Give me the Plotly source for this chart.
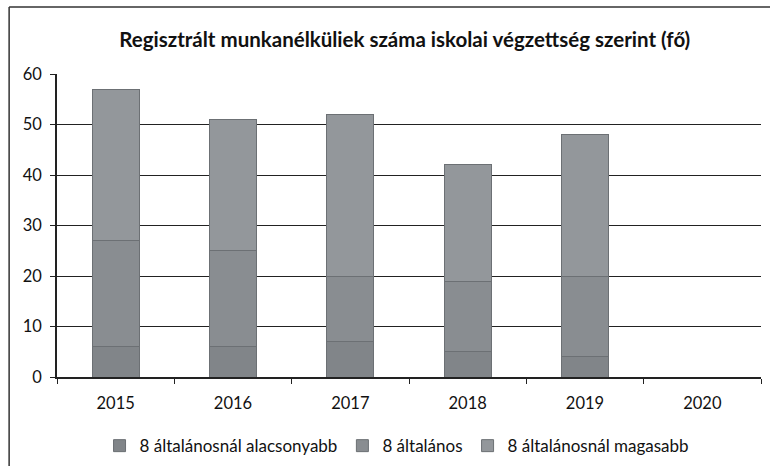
import plotly.graph_objects as go

# === DATA ===
years = ["2015", "2016", "2017", "2018", "2019", "2020"]
lower = [6, 6, 7, 5, 4, 0]        # 8 általánosnál alacsonyabb
primary = [21, 19, 13, 14, 16, 0]  # 8 általános
higher = [30, 26, 32, 23, 28, 0]   # 8 általánosnál magasabb

series_names = ["8 általánosnál alacsonyabb", "8 általános", "8 általánosnál magasabb"]
series_colors = ["#818589", "#898d91", "#93979b"]

FONT = "Lato"

# === PLOT ===
fig = go.Figure()
for name, vals, col in zip(series_names, [lower, primary, higher], series_colors):
    fig.add_trace(go.Bar(x=years, y=vals, name=name,
                         marker=dict(color=col, line=dict(color="#6c7074", width=1))))

# === LAYOUT ===
fig.update_layout(
    barmode="stack",
    bargap=0.6,
    width=770, height=466,
    margin=dict(l=57, r=9, t=74, b=89, autoexpand=False),
    paper_bgcolor="white", plot_bgcolor="white",
    font=dict(family=FONT, size=16, color="#111111"),
    title=dict(text="<b>Regisztrált munkanélküliek száma iskolai végzettség szerint (fő)</b>",
               x=0.494, xref="paper", xanchor="center", y=0.915, yanchor="middle",
               font=dict(family=FONT, size=20.5, color="#111111")),
    xaxis=dict(showline=True, linecolor="#222222", linewidth=1.5,
               ticks="outside", tickson="boundaries", ticklen=5, tickcolor="#222222",
               showgrid=False, tickfont=dict(size=16.5), ticklabelstandoff=10),
    yaxis=dict(range=[0, 60], dtick=10, showline=True, linecolor="#222222", linewidth=1.5,
               ticks="outside", ticklen=5, tickcolor="#222222",
               showgrid=True, gridcolor="#222222", gridwidth=1.3,
               zeroline=False, tickfont=dict(size=16.5), ticklabelstandoff=5),
    legend=dict(orientation="h", x=0.483, xanchor="center", y=-0.228, yanchor="middle",
                font=dict(size=17), traceorder="normal", itemwidth=30),
    showlegend=True,
    shapes=[
        dict(type="line", xref="paper", yref="paper", x0=-0.068, x1=-0.068, y0=1.221, y1=-0.35,
             line=dict(color="#333333", width=1.5)),
        dict(type="line", xref="paper", yref="paper", x0=-0.068, x1=1.02, y0=1.221, y1=1.221,
             line=dict(color="#333333", width=1.5)),
    ],
)

fig.write_html("out.html", config={"displayModeBar": False},
               post_script="document.body.style.margin='0';")
